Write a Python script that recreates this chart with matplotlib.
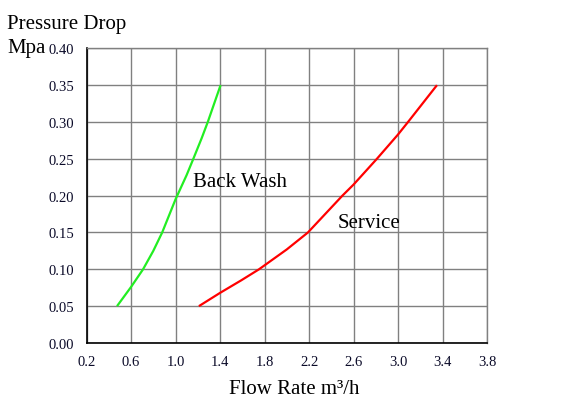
import matplotlib.pyplot as plt

# data
backwash_flow = [0.474, 0.60, 0.708, 0.80, 0.88, 1.0, 1.10, 1.16, 1.235, 1.29, 1.405]
backwash_dp = [0.05, 0.076, 0.10, 0.125, 0.15, 0.195, 0.228, 0.25, 0.278, 0.30, 0.35]

service_flow = [1.21, 1.40, 1.59, 1.75, 2.0, 2.19, 2.50, 2.60, 2.81, 3.0, 3.09, 3.35]
service_dp = [0.05, 0.068, 0.085, 0.10, 0.127, 0.15, 0.20, 0.215, 0.25, 0.283, 0.30, 0.35]

x_ticks = [0.2, 0.6, 1.0, 1.4, 1.8, 2.2, 2.6, 3.0, 3.4, 3.8]
y_ticks = [0.00, 0.05, 0.10, 0.15, 0.20, 0.25, 0.30, 0.35, 0.40]

plt.rcParams['font.family'] = ['Liberation Serif', 'DejaVu Serif']
text_color = '#0a0a28'

fig = plt.figure(figsize=(5.78, 4.10), dpi=100)
ax = fig.add_axes([0.1497, 0.161, 0.6929, 0.7187])

ax.plot(backwash_flow, backwash_dp, color='#22ee22', linewidth=1.6,
        solid_capstyle='butt', solid_joinstyle='round')
ax.plot(service_flow, service_dp, color='#ff0000', linewidth=1.6,
        solid_capstyle='butt', solid_joinstyle='round')

ax.set_xlim(0.2, 3.8)
ax.set_ylim(0.0, 0.40)
ax.set_xticks(x_ticks)
ax.set_yticks(y_ticks)
ax.set_xticklabels([f'{v:.1f}' for v in x_ticks])
ax.set_yticklabels([f'{v:.2f}' for v in y_ticks])
ax.tick_params(axis='both', length=0, labelsize=10.5, colors=text_color)
ax.tick_params(axis='x', pad=9)
ax.tick_params(axis='y', pad=9)

ax.grid(True, color='#808080', linewidth=1.0)
ax.set_axisbelow(True)
for side in ['top', 'right']:
    ax.spines[side].set_color('#808080')
    ax.spines[side].set_linewidth(1.0)
for side in ['left', 'bottom']:
    ax.spines[side].set_color('black')
    ax.spines[side].set_linewidth(1.2)

# curve labels
ax.text(1.155, 0.219, 'Back Wash', fontsize=15, color='black', va='center', ha='left')
ax.text(2.46, 0.164, 'Service', fontsize=15, color='black', va='center', ha='left')

fig.text(7 / 578, 1 - 24 / 410, 'Pressure Drop', fontsize=15, color='black', va='center', ha='left')
fig.text(7 / 578, 1 - 48 / 410, 'Mpa', fontsize=15, color='black', va='center', ha='left')
fig.text(294 / 578, 1 - 390 / 410, 'Flow Rate m³/h', fontsize=15, color='black', va='center', ha='center')

fig.savefig('out.png', dpi=100)
plt.close(fig)
